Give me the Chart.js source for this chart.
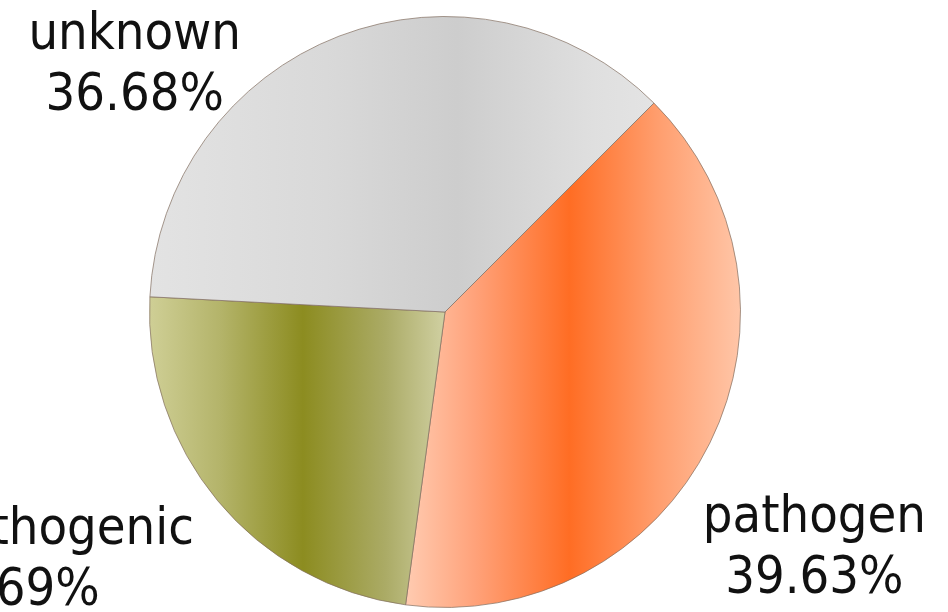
<!DOCTYPE html>
<html>
<head>
<meta charset="utf-8">
<script src="https://cdn.jsdelivr.net/npm/chart.js@4.4.0/dist/chart.umd.min.js"></script>
<style>
  html, body { margin: 0; padding: 0; background: #fff; overflow: hidden; }
  #wrap { width: 948px; height: 612px; }
</style>
</head>
<body>
<div id="wrap"><canvas id="chart-pathogen" width="948" height="612"></canvas></div>
<script>
// shares of each group, in percent
var categories = ['pathogen', 'non-pathogenic', 'unknown'];
var percentages = [39.63, 23.69, 36.68];

// gradient stops per slice: [position across the pie (0..1), colour]
var sliceStops = [
    [[0.44, '#ffc9ae'], [0.55, '#ffa27a'], [0.71, '#ff6d24'], [0.86, '#ff9e6e'], [1.0, '#ffc6a8']],
    [[0.0, '#cfcf96'], [0.12, '#b4b46a'], [0.26, '#8c8c20'], [0.40, '#abab66'], [0.50, '#d0d0a2']],
    [[0.0, '#e3e3e3'], [0.30, '#d9d9d9'], [0.52, '#cdcdcd'], [0.75, '#dfdfdf'], [0.95, '#e8e8e8']]
];

// where each label block is centred, relative to the pie centre in radii
var labelOffsets = [[1.25, 0.845], [-1.47, 0.885], [-1.05, -0.79]];

function sliceFill(context) {
    var chart = context.chart;
    var area = chart.chartArea;
    if (!area) return '#ddd';
    var r = Math.min(area.right - area.left, area.bottom - area.top) / 2;
    var cx = (area.left + area.right) / 2;
    var g = chart.ctx.createLinearGradient(cx - r, 0, cx + r, 0);
    sliceStops[context.dataIndex].forEach(function(s) { g.addColorStop(s[0], s[1]); });
    return g;
}

var pieLabels = {
    id: 'pieLabels',
    afterDraw: function(chart) {
        var ctx = chart.ctx;
        var meta = chart.getDatasetMeta(0);
        ctx.save();
        ctx.font = '52px "DejaVu Sans Condensed", "DejaVu Sans", sans-serif';
        ctx.fillStyle = '#111';
        ctx.textAlign = 'center';
        ctx.textBaseline = 'alphabetic';
        meta.data.forEach(function(arc, i) {
            var x = arc.x + labelOffsets[i][0] * arc.outerRadius;
            var y = arc.y + labelOffsets[i][1] * arc.outerRadius;
            ctx.fillText(categories[i], x, y - 30);
            ctx.fillText(percentages[i].toFixed(2) + '%', x, y + 31);
        });
        ctx.restore();
    }
};

var ctx = document.getElementById('chart-pathogen');
var pieChart = new Chart(ctx, {
    type: 'pie',
    data: {
        labels: categories,
        datasets: [{
            data: percentages,
            backgroundColor: sliceFill,
            borderColor: 'rgba(130,110,95,0.7)',
            borderWidth: 1
        }]
    },
    options: {
        responsive: false,
        animation: false,
        rotation: 45,
        layout: { padding: { top: 16, bottom: 4, left: 0, right: 58 } },
        plugins: {
            legend: { display: false },
            tooltip: { enabled: false }
        }
    },
    plugins: [pieLabels]
});
</script>
</body>
</html>
